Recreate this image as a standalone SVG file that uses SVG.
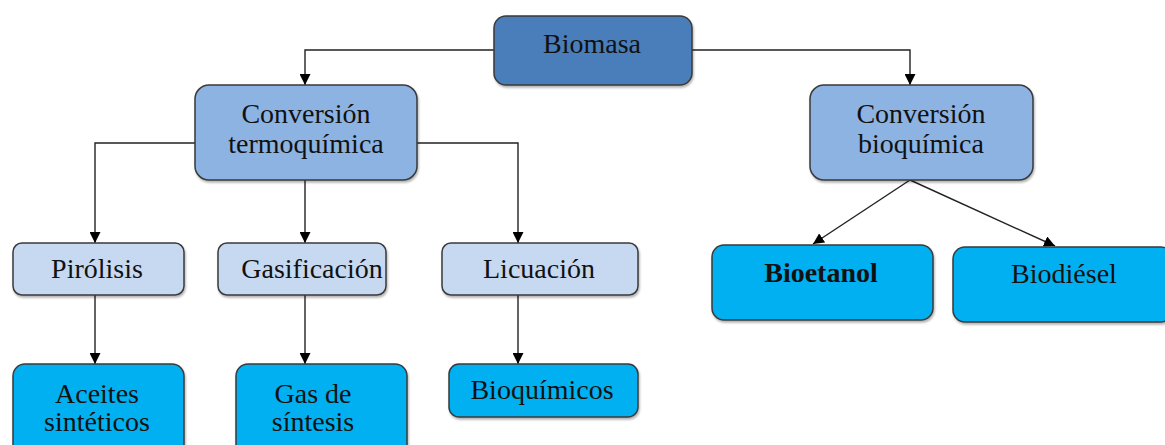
<svg xmlns="http://www.w3.org/2000/svg" width="1165" height="445" viewBox="0 0 1165 445">
<style>
.box{stroke:#3a3a3a;stroke-width:1.5}
.l0{fill:#4A7EBB}
.l1{fill:#8DB3E2}
.l2{fill:#C6D9F1}
.l3{fill:#00B0F0}
text{font-family:"Liberation Serif","Times New Roman",serif;font-size:28px;fill:#111;text-anchor:middle}
.c{fill:none;stroke:#222;stroke-width:1.4}
</style>
<defs>
<marker id="ah" viewBox="0 0 10 10" refX="10" refY="5" markerWidth="11" markerHeight="11" markerUnits="userSpaceOnUse" orient="auto">
<path d="M0,0 L10,5 L0,10 z" fill="#000"/>
</marker>
<filter id="sh" x="-10%" y="-10%" width="120%" height="130%">
<feDropShadow dx="1" dy="2" stdDeviation="1.2" flood-color="#000" flood-opacity="0.3"/>
</filter>
</defs>
<g id="connectors">
<path class="c" d="M494,50 H305 V85" marker-end="url(#ah)"/>
<path class="c" d="M692,50 H910 V85" marker-end="url(#ah)"/>
<path class="c" d="M195,143 H95 V243" marker-end="url(#ah)"/>
<path class="c" d="M305,180 V243" marker-end="url(#ah)"/>
<path class="c" d="M417,143 H518 V243" marker-end="url(#ah)"/>
<path class="c" d="M95,295 V364" marker-end="url(#ah)"/>
<path class="c" d="M305,295 V364" marker-end="url(#ah)"/>
<path class="c" d="M518,295 V364" marker-end="url(#ah)"/>
<path class="c" d="M910,180 L813,244" marker-end="url(#ah)"/>
<path class="c" d="M910,180 L1055,246" marker-end="url(#ah)"/>
</g>
<g id="biomasa">
<rect class="box l0" x="494" y="16" width="198" height="69" rx="12" filter="url(#sh)"/>
<text x="592" y="53">Biomasa</text>
</g>
<g id="termoquimica">
<rect class="box l1" x="195" y="85" width="222" height="95" rx="14" filter="url(#sh)"/>
<text x="306" y="123">Conversión</text>
<text x="306" y="153">termoquímica</text>
</g>
<g id="bioquimica">
<rect class="box l1" x="810" y="85" width="223" height="95" rx="14" filter="url(#sh)"/>
<text x="921" y="123">Conversión</text>
<text x="921" y="153">bioquímica</text>
</g>
<g id="pirolisis">
<rect class="box l2" x="13" y="243" width="171" height="52" rx="9" filter="url(#sh)"/>
<text x="97" y="278">Pirólisis</text>
</g>
<g id="gasificacion">
<rect class="box l2" x="218" y="243" width="168" height="52" rx="9" filter="url(#sh)"/>
<text x="312" y="278">Gasificación</text>
</g>
<g id="licuacion">
<rect class="box l2" x="442" y="243" width="196" height="52" rx="9" filter="url(#sh)"/>
<text x="539" y="278">Licuación</text>
</g>
<g id="aceites">
<rect class="box l3" x="13" y="364" width="171" height="95" rx="12" filter="url(#sh)"/>
<text x="97" y="403">Aceites</text>
<text x="97" y="431">sintéticos</text>
</g>
<g id="gas">
<rect class="box l3" x="236" y="364" width="171" height="95" rx="12" filter="url(#sh)"/>
<text x="313" y="403">Gas de</text>
<text x="313" y="431">síntesis</text>
</g>
<g id="bioquimicos">
<rect class="box l3" x="449" y="364" width="189" height="53" rx="10" filter="url(#sh)"/>
<text x="542" y="399">Bioquímicos</text>
</g>
<g id="bioetanol">
<rect class="box l3" x="712" y="245" width="221" height="75" rx="12" filter="url(#sh)"/>
<text x="821" y="282" font-weight="bold">Bioetanol</text>
</g>
<g id="biodiesel">
<rect class="box l3" x="953" y="247" width="220" height="75" rx="12" filter="url(#sh)"/>
<text x="1064" y="283">Biodiésel</text>
</g>
</svg>
